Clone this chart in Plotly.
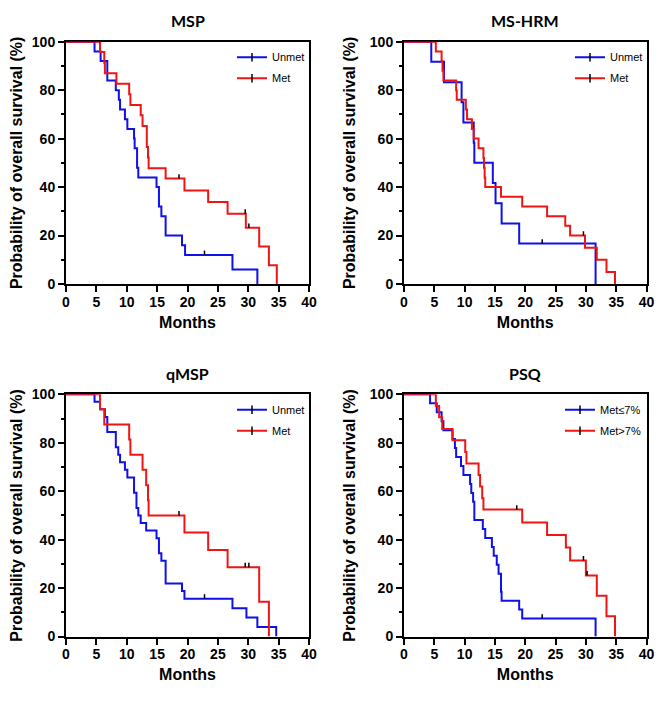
import plotly.graph_objects as go

# ---------------- data ----------------
panel_titles = ["MSP", "MS-HRM", "qMSP", "PSQ"]
legend_names = [["Unmet", "Met"], ["Unmet", "Met"], ["Unmet", "Met"], ["Met≤7%", "Met>7%"]]

# MSP
msp_unmet_t = [4.7, 5.7, 6.8, 8.2, 8.7, 8.9, 9.7, 10.1, 11.2, 11.3, 11.7, 11.9, 14.9, 15.3, 15.7, 16.4, 19.1, 19.6, 27.4, 31.5]
msp_unmet_s = [96, 92, 84, 80, 76, 72, 68, 64, 60, 56, 48, 44, 40, 32, 28, 20, 16, 12, 6, 0]
msp_unmet_ct = [22.8]
msp_unmet_cs = [12]
msp_met_t = [5.6, 6.3, 6.4, 8.3, 10.4, 10.6, 12.3, 12.6, 13.3, 13.5, 13.6, 16.4, 19.5, 23.4, 26.6, 29.6, 31.8, 33.4, 34.7]
msp_met_s = [95.7, 91.3, 87.0, 82.6, 78.3, 73.9, 69.6, 65.2, 56.5, 52.2, 47.8, 43.5, 38.6, 33.8, 29.0, 23.2, 15.5, 7.7, 0]
msp_met_ct = [18.6, 29.5, 30.1]
msp_met_cs = [43.5, 29.0, 23.2]

# MS-HRM
hrm_unmet_t = [4.5, 6.6, 9.5, 9.8, 11.5, 11.6, 14.65, 15.1, 16.1, 19.0, 31.6]
hrm_unmet_s = [91.7, 83.3, 75.0, 66.7, 58.3, 50.0, 41.7, 33.3, 25.0, 16.7, 0]
hrm_unmet_ct = [22.8]
hrm_unmet_cs = [16.7]
hrm_met_t = [5.25, 6.2, 6.35, 6.5, 8.6, 8.7, 10.2, 10.4, 11.2, 11.5, 12.3, 13.1, 13.2, 13.3, 13.4, 16.0, 19.5, 23.6, 26.6, 27.4, 29.85, 31.8, 33.4, 34.8]
hrm_met_s = [96, 92, 88, 84, 80, 76, 72, 68, 64, 60, 56, 52, 48, 44, 40, 36, 32, 28, 24, 20, 15, 10, 5, 0]
hrm_met_ct = [29.6]
hrm_met_cs = [20]

# qMSP
qmsp_unmet_t = [4.7, 5.6, 6.4, 6.8, 8.2, 8.6, 8.9, 9.7, 10.1, 11.2, 11.6, 11.9, 12.3, 13.2, 14.9, 15.3, 15.7, 16.4, 19.1, 19.5, 27.4, 29.7, 31.5, 34.6]
qmsp_unmet_s = [96.9, 93.8, 90.6, 84.4, 78.1, 75.0, 71.9, 68.8, 65.6, 59.4, 53.1, 50.0, 46.9, 43.8, 40.6, 34.4, 31.3, 21.9, 18.8, 15.6, 11.7, 7.8, 3.9, 0]
qmsp_unmet_ct = [22.8]
qmsp_unmet_cs = [15.6]
qmsp_met_t = [5.6, 6.3, 10.4, 10.6, 12.6, 13.2, 13.5, 13.6, 19.5, 23.4, 26.6, 31.8, 33.4]
qmsp_met_s = [93.8, 87.5, 81.3, 75.0, 68.8, 62.5, 56.3, 50.0, 42.9, 35.7, 28.6, 14.3, 0]
qmsp_met_ct = [18.6, 29.5, 30.1]
qmsp_met_cs = [50.0, 28.6, 28.6]

# PSQ
psq_low_t = [4.3, 5.4, 6.2, 6.5, 8.0, 8.4, 8.6, 9.4, 9.8, 10.9, 11.1, 11.4, 11.6, 13.0, 13.4, 14.5, 14.8, 15.3, 15.6, 16.0, 16.1, 19.0, 19.5, 31.6]
psq_low_s = [96.3, 92.6, 88.9, 85.2, 81.5, 77.8, 74.1, 70.4, 66.7, 63.0, 59.3, 55.6, 48.1, 44.4, 40.7, 37.0, 33.3, 29.6, 25.9, 18.5, 14.8, 11.1, 7.4, 0]
psq_low_ct = [22.8]
psq_low_cs = [7.4]
psq_high_t = [5.25, 5.8, 6.3, 8.0, 10.1, 10.3, 12.3, 12.55, 12.9, 13.1, 19.5, 23.6, 26.7, 27.4, 30.0, 31.8, 33.4, 34.8]
psq_high_s = [95.2, 90.5, 85.7, 81.0, 76.2, 71.4, 66.7, 61.9, 57.1, 52.4, 47.1, 41.9, 36.7, 31.4, 25.2, 16.8, 8.4, 0]
psq_high_ct = [18.6, 29.6, 30.2]
psq_high_cs = [52.4, 31.4, 25.2]

x_ticks = [0, 5, 10, 15, 20, 25, 30, 35, 40]
y_ticks = [0, 20, 40, 60, 80, 100]
y_minor_ticks = [10, 30, 50, 70, 90]

panels = [
    [(msp_unmet_t, msp_unmet_s, msp_unmet_ct, msp_unmet_cs), (msp_met_t, msp_met_s, msp_met_ct, msp_met_cs)],
    [(hrm_unmet_t, hrm_unmet_s, hrm_unmet_ct, hrm_unmet_cs), (hrm_met_t, hrm_met_s, hrm_met_ct, hrm_met_cs)],
    [(qmsp_unmet_t, qmsp_unmet_s, qmsp_unmet_ct, qmsp_unmet_cs), (qmsp_met_t, qmsp_met_s, qmsp_met_ct, qmsp_met_cs)],
    [(psq_low_t, psq_low_s, psq_low_ct, psq_low_cs), (psq_high_t, psq_high_s, psq_high_ct, psq_high_cs)],
]

# ---------------- styling / layout ----------------
OFF = 8                      # page body margin of the html page
W, H = 669 - OFF, 710 - OFF
COLORS = ["#1010E8", "#F01414"]
SANS = "Liberation Sans, Arial, sans-serif"
TITLE_FONT = "Lato, Open Sans, sans-serif"

# plot areas in screen pixels: (left, right, top, bottom), legend x offset
areas = [(66, 309, 41.7, 284, 166), (404, 646.5, 41.7, 284, 166),
         (66, 309, 394.3, 636.5, 166), (404, 646.5, 394.3, 636.5, 156)]

fig = go.Figure()
layout = dict(width=W, height=H, margin=dict(l=0, r=0, t=0, b=0),
              paper_bgcolor="white", plot_bgcolor="white", showlegend=True)
annotations = []

for i, (series, title, names, area) in enumerate(zip(panels, panel_titles, legend_names, areas)):
    k = "" if i == 0 else str(i + 1)
    xa, ya = "x" + k, "y" + k
    leg = "legend" + k
    l, r, t, b, lx = [v - OFF if n < 4 else v for n, v in enumerate(area)]
    for j, (tt, ss, ct, cs) in enumerate(series):
        fig.add_trace(go.Scatter(
            x=[0] + tt, y=[100] + ss, mode="lines", line=dict(color=COLORS[j], width=2, shape="hv"),
            xaxis=xa, yaxis=ya, showlegend=False, cliponaxis=False, hoverinfo="skip"))
        cx, cy = [], []
        for a, v in zip(ct, cs):
            cx += [a, a, None]
            cy += [v, v + 1.8, None]
        fig.add_trace(go.Scatter(
            x=cx, y=cy, mode="lines", line=dict(color="black", width=1.5),
            xaxis=xa, yaxis=ya, showlegend=False, cliponaxis=False, hoverinfo="skip"))
        fig.add_trace(go.Scatter(
            x=[None], y=[None], mode="lines+markers", name=names[j],
            line=dict(color=COLORS[j], width=2),
            marker=dict(symbol="line-ns", size=6, line=dict(color="black", width=1.5)),
            xaxis=xa, yaxis=ya, legend=leg, legendgroup="g%d%d" % (i, j)))
    axis_common = dict(showgrid=False, zeroline=False, showline=True, linecolor="black", linewidth=2,
                       mirror=True, ticks="outside", tickcolor="black", tickwidth=2, ticklen=6,
                       layer="below traces", automargin=False,
                       tickfont=dict(family=SANS, size=14, color="black", weight="bold"))
    layout["xaxis" + k] = dict(axis_common, domain=[l / W, r / W], range=[0, 40], tickvals=x_ticks,
                               anchor=ya, fixedrange=True, ticklabelstandoff=-2,
                               title=dict(text="Months", standoff=8,
                                          font=dict(family=SANS, size=16, color="black", weight="bold")))
    layout["yaxis" + k] = dict(axis_common, domain=[1 - b / H, 1 - t / H], range=[0, 100], tickvals=y_ticks,
                               anchor=xa, fixedrange=True,
                               minor=dict(tickvals=y_minor_ticks, ticks="outside", ticklen=3,
                                          tickwidth=2, tickcolor="black", showgrid=False),
                               title=dict(text="Probability of overall survival (%)", standoff=10,
                                          font=dict(family=SANS, size=16, color="black", weight="bold")))
    layout[leg] = dict(x=(l + lx) / W, y=1 - (t + 1) / H, xanchor="left", yanchor="top",
                       bgcolor="rgba(0,0,0,0)", borderwidth=0, tracegroupgap=2,
                       font=dict(family=SANS, size=11, color="black"))
    annotations.append(dict(text="<b>%s</b>" % title, x=(l + r) / 2 / W, y=1 - (t - 21) / H,
                            xref="paper", yref="paper", xanchor="center", yanchor="middle",
                            showarrow=False, font=dict(family=TITLE_FONT, size=16, color="black")))

layout["annotations"] = annotations
fig.update_layout(**layout)
fig.write_html("out.html")
